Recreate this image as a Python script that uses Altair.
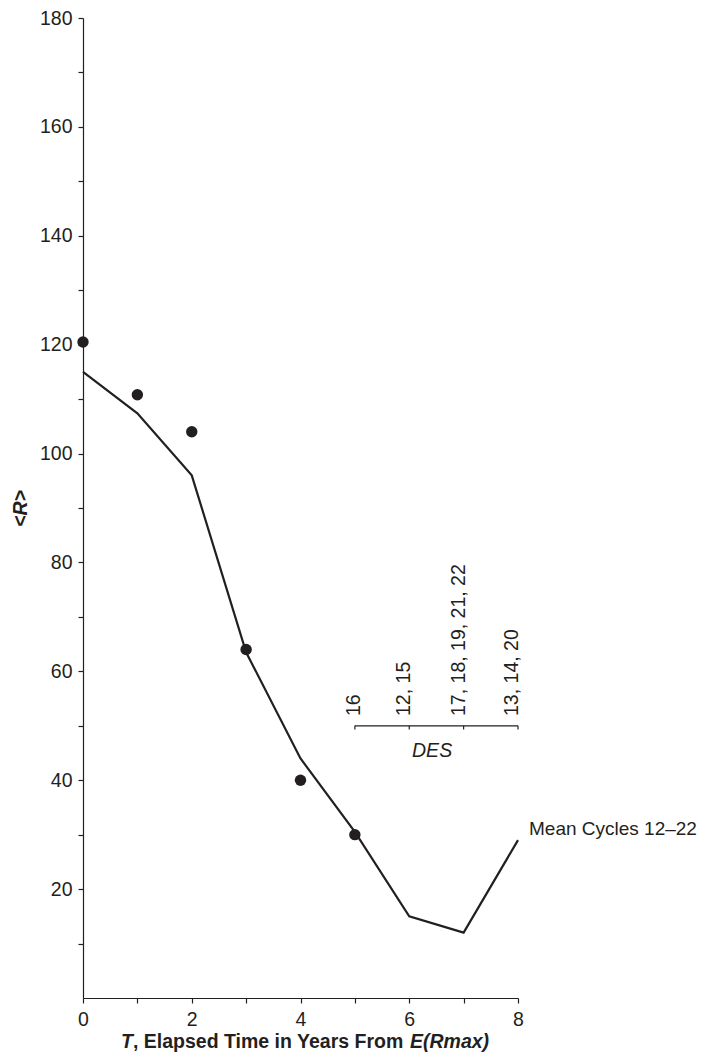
import altair as alt
import pandas as pd

# ---- data ----
T_points = [0, 1, 2, 3, 4, 5]
R_points = [120.5, 110.8, 104.0, 64.0, 40.0, 30.0]

T_line = [0, 1, 2, 3, 4, 5, 6, 7, 8]
R_line = [115.0, 107.4, 96.0, 63.5, 44.0, 30.5, 15.0, 12.0, 29.0]

des_ticks = [5, 6, 7, 8]
des_labels = ["16", "12, 15", "17, 18, 19, 21, 22", "13, 14, 20"]
des_label_x = [5.1, 6.02, 7.02, 8.0]
des_level = 50
des_tick_bottom = 49.3
des_label_level = 51.8
des_title = "DES"
des_title_x = 6.42
des_title_y = 45.4

series_label = "Mean Cycles 12\u201322"
series_label_x = 8
series_label_y = 31

y_ticks = list(range(10, 181, 10))
x_ticks = list(range(0, 9))

INK = "#231f20"
FONT = "Liberation Sans, Arial, sans-serif"
FS = 19.5
W, H = 435, 980

pts = pd.DataFrame({"T": T_points, "R": R_points})
line_df = pd.DataFrame({"T": T_line, "R": R_line})
ticks_df = pd.DataFrame({"T": des_ticks, "y": [des_level] * 4, "y2": [des_tick_bottom] * 4})
bracket_df = pd.DataFrame({"T": [min(des_ticks)], "T2": [max(des_ticks)], "y": [des_level]})
lab_df = pd.DataFrame({"T": des_label_x, "y": [des_label_level] * 4, "lab": des_labels})
des_df = pd.DataFrame({"T": [des_title_x], "y": [des_title_y], "lab": [des_title]})
ser_df = pd.DataFrame({"T": [series_label_x], "y": [series_label_y], "lab": [series_label]})
one = pd.DataFrame({"a": [0]})

xscale = alt.Scale(domain=[0, 8], nice=False, zero=False)
yscale = alt.Scale(domain=[0, 180], nice=False)

xaxis = alt.Axis(values=x_ticks, labelExpr="datum.value % 2 == 0 ? datum.label : ''",
                 grid=False, tickSize=5, labelPadding=7, title=None, labelFlush=False,
                 labelFont=FONT, labelFontSize=FS, labelColor=INK,
                 domainColor=INK, tickColor=INK, domainWidth=1.2, tickWidth=1.2)
yaxis = alt.Axis(values=y_ticks, labelExpr="datum.value % 20 == 0 ? datum.label : ''",
                 grid=False, tickSize=5, labelPadding=6, title="<R>", labelFlush=False,
                 titleFont=FONT, titleFontSize=FS, titleFontWeight="bold",
                 titleFontStyle="italic", titleColor=INK, titlePadding=9,
                 labelFont=FONT, labelFontSize=FS, labelColor=INK,
                 domainColor=INK, tickColor=INK, domainWidth=1.2, tickWidth=1.2)

line = alt.Chart(line_df).mark_line(color=INK, strokeWidth=2.2).encode(
    x=alt.X("T:Q", scale=xscale, axis=xaxis),
    y=alt.Y("R:Q", scale=yscale, axis=yaxis),
)
dots = alt.Chart(pts).mark_circle(color=INK, opacity=1, size=130).encode(
    x=alt.X("T:Q", scale=xscale), y=alt.Y("R:Q", scale=yscale))

bracket = alt.Chart(bracket_df).mark_rule(color=INK, strokeWidth=1.2).encode(
    x=alt.X("T:Q", scale=xscale), x2="T2:Q", y=alt.Y("y:Q", scale=yscale))
bticks = alt.Chart(ticks_df).mark_rule(color=INK, strokeWidth=1.2).encode(
    x=alt.X("T:Q", scale=xscale), y=alt.Y("y:Q", scale=yscale), y2="y2:Q")
blabels = alt.Chart(lab_df).mark_text(angle=270, align="left", baseline="alphabetic",
                                      font=FONT, fontSize=FS, color=INK).encode(
    x=alt.X("T:Q", scale=xscale), y=alt.Y("y:Q", scale=yscale), text="lab:N")
des = alt.Chart(des_df).mark_text(font=FONT, fontSize=FS, fontStyle="italic", color=INK,
                                  baseline="middle", align="center").encode(
    x=alt.X("T:Q", scale=xscale), y=alt.Y("y:Q", scale=yscale), text="lab:N")
ser = alt.Chart(ser_df).mark_text(font=FONT, fontSize=19, color=INK, align="left",
                                  baseline="middle", dx=11).encode(
    x=alt.X("T:Q", scale=xscale), y=alt.Y("y:Q", scale=yscale), text="lab:N")

# x-axis title in three styled parts
TY = 1024
t1 = alt.Chart(one).mark_text(text="T", font=FONT, fontSize=FS, fontWeight="bold",
                              fontStyle="italic", color=INK, align="left", baseline="middle").encode(
    x=alt.value(38), y=alt.value(TY))
t2 = alt.Chart(one).mark_text(text=", Elapsed Time in Years From", font=FONT, fontSize=FS,
                              fontWeight="bold", color=INK, align="left", baseline="middle").encode(
    x=alt.value(50), y=alt.value(TY))
t3 = alt.Chart(one).mark_text(text="E(Rmax)", font=FONT, fontSize=FS, fontWeight="bold",
                              fontStyle="italic", color=INK, align="left", baseline="middle").encode(
    x=alt.value(327), y=alt.value(TY))

chart = alt.layer(line, dots, bracket, bticks, blabels, des, ser, t1, t2, t3).properties(
    width=W, height=H,
    autosize=alt.AutoSizeParams(type="none"),
    padding={"left": 75, "top": 10, "right": 182, "bottom": 56},
).configure(background="white").configure_view(stroke=None)

chart.save("out.html", embed_options={"renderer": "svg", "actions": False})
